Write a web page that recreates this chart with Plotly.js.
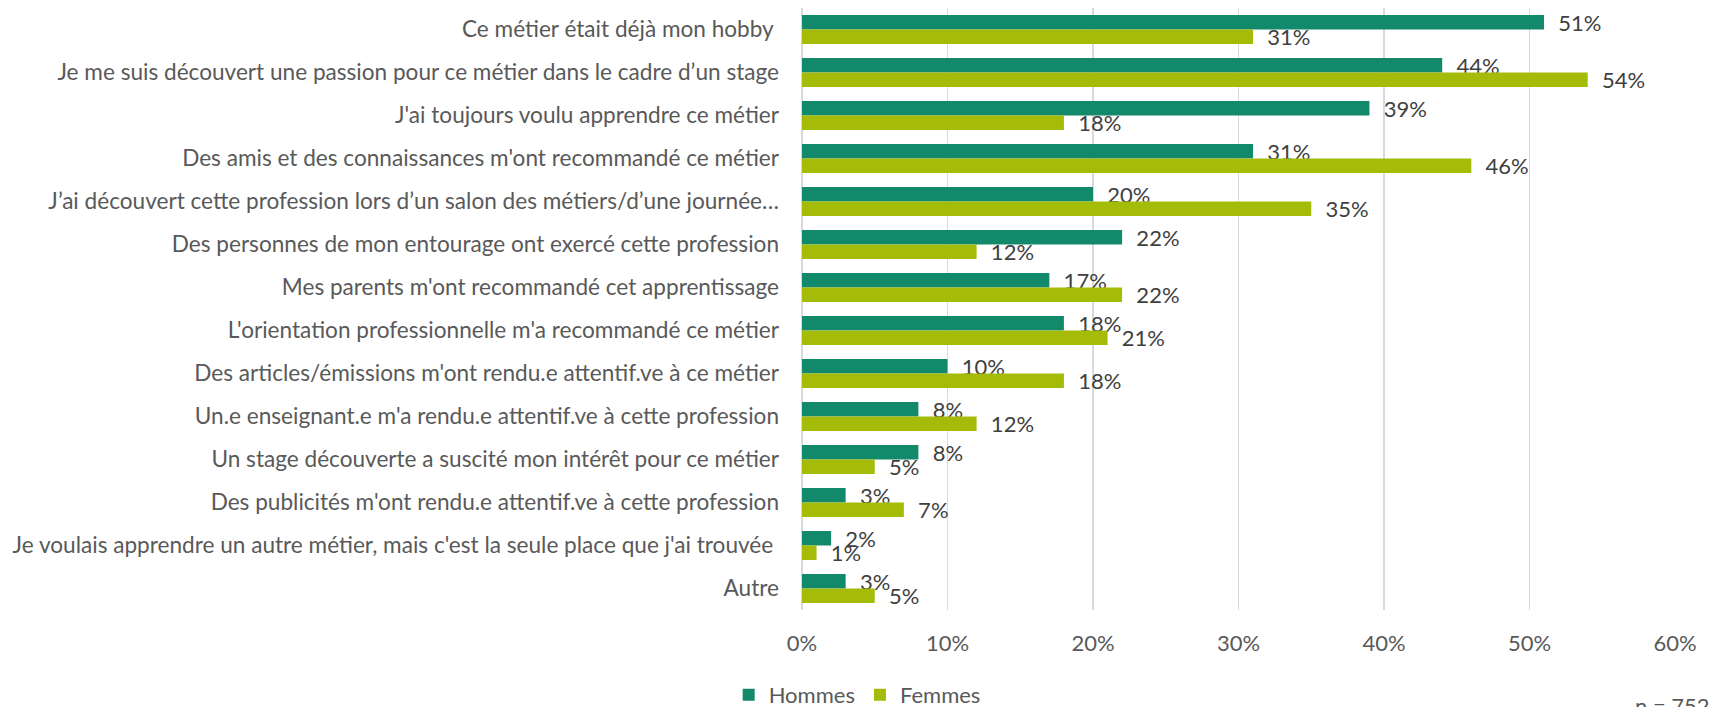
<!DOCTYPE html>
<html>
<head>
<meta charset="utf-8">
<script src="https://cdn.plot.ly/plotly-3.0.1.min.js"></script>
<style>html,body{margin:0;padding:0;background:#fff;}#chart{width:1709px;height:707px;}</style>
</head>
<body>
<div id="chart"></div>
<script>
const categories = [
  "Ce métier était déjà mon hobby\u00a0",
  "Je me suis découvert une passion pour ce métier dans le cadre d’un stage",
  "J'ai toujours voulu apprendre ce métier",
  "Des amis et des connaissances m'ont recommandé ce métier",
  "J’ai découvert cette profession lors d’un salon des métiers/d’une journée…",
  "Des personnes de mon entourage ont exercé cette profession",
  "Mes parents m'ont recommandé cet apprentissage",
  "L'orientation professionnelle m'a recommandé ce métier",
  "Des articles/émissions m'ont rendu.e attentif.ve à ce métier",
  "Un.e enseignant.e m'a rendu.e attentif.ve à cette profession",
  "Un stage découverte a suscité mon intérêt pour ce métier",
  "Des publicités m'ont rendu.e attentif.ve à cette profession",
  "Je voulais apprendre un autre métier, mais c'est la seule place que j'ai trouvée\u00a0",
  "Autre"
];
const hommes = [0.51, 0.44, 0.39, 0.31, 0.20, 0.22, 0.17, 0.18, 0.10, 0.08, 0.08, 0.03, 0.02, 0.03];
const femmes = [0.31, 0.54, 0.18, 0.46, 0.35, 0.12, 0.22, 0.21, 0.18, 0.12, 0.05, 0.07, 0.01, 0.05];
const seriesNames = ["Hommes", "Femmes"];
const tickVals = [0, 0.1, 0.2, 0.3, 0.4, 0.5, 0.6];
const tickText = ["0%", "10%", "20%", "30%", "40%", "50%", "60%"];
const noteText = "n = 752";

const FONT = "Lato, 'Open Sans', sans-serif";
const FS = 22;
const colors = ["#13896B", "#A4BC08"];

function barTrace(vals, name, color) {
  return {
    type: "bar", orientation: "h", name: name,
    x: vals, y: categories,
    marker: {color: color, line: {width: 0}},
    texttemplate: "\u00a0\u00a0%{x:.0%}",
    textposition: "outside",
    constraintext: "none",
    cliponaxis: false,
    textfont: {family: FONT, size: FS, color: "#404040"},
    hoverinfo: "x+y"
  };
}

const data = [barTrace(hommes, seriesNames[0], colors[0]), barTrace(femmes, seriesNames[1], colors[1])];

const layout = {
  width: 1709, height: 707,
  margin: {l: 802, r: 34, t: 8, b: 97, pad: 0, autoexpand: false},
  paper_bgcolor: "#ffffff", plot_bgcolor: "#ffffff",
  font: {family: FONT, size: FS, color: "#595959"},
  barmode: "group", bargap: 0.326, bargroupgap: 0,
  showlegend: true,
  legend: {
    orientation: "h", x: -0.084, xanchor: "left", y: -0.141, yanchor: "middle",
    font: {family: FONT, size: FS, color: "#595959"},
    bgcolor: "rgba(0,0,0,0)", traceorder: "normal", itemwidth: 30
  },
  xaxis: {
    range: [0, 0.6], tickvals: tickVals, ticktext: tickText,
    showgrid: true, gridcolor: "#d9d9d9", gridwidth: 1.5,
    zeroline: true, zerolinecolor: "#d9d9d9", zerolinewidth: 1.5,
    showline: false, ticks: "", ticklabelstandoff: 18,
    tickfont: {family: FONT, size: FS, color: "#595959"}, fixedrange: true
  },
  yaxis: {
    type: "category", autorange: "reversed",
    showgrid: false, zeroline: false, showline: false, ticks: "",
    ticklabelstandoff: 22,
    tickfont: {family: FONT, size: 22.6, color: "#595959"}, fixedrange: true
  },
  annotations: [{
    text: noteText, xref: "paper", yref: "paper", x: 0.952, y: -0.159,
    xanchor: "left", yanchor: "middle", showarrow: false,
    font: {family: FONT, size: FS, color: "#595959"}
  }]
};

Plotly.newPlot("chart", data, layout, {displayModeBar: false, staticPlot: true});
</script>
</body>
</html>
